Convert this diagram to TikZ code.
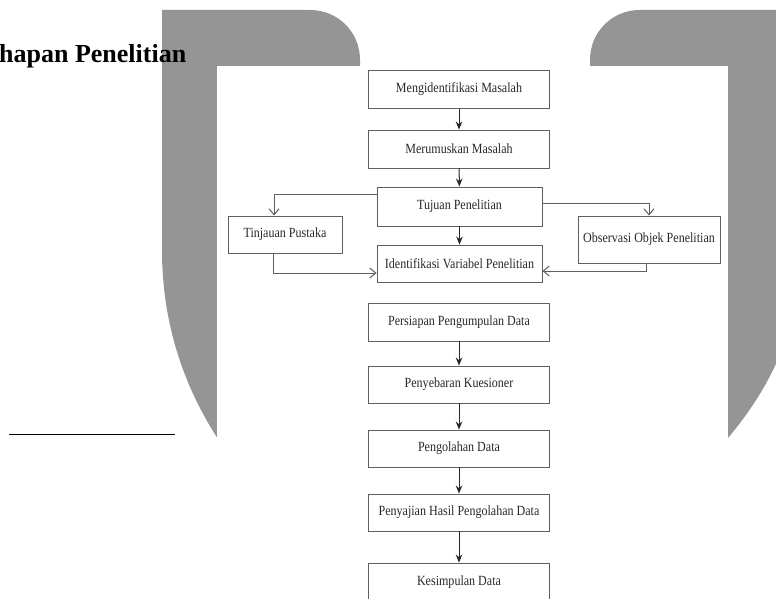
\documentclass[tikz,border=0pt]{standalone}
\usepackage{fontspec}
\setmainfont{Liberation Serif}
\usetikzlibrary{arrows.meta}
\definecolor{wmgray}{RGB}{149,149,150}
\definecolor{boxline}{RGB}{95,95,95}
\definecolor{boxtext}{RGB}{40,40,40}
\newcommand{\slim}[1]{\scalebox{0.86}[1]{#1}}
\tikzset{
  stepbox/.style={draw=boxline, line width=0.9pt, text=boxtext, inner sep=0pt,
    minimum width=181pt, minimum height=38pt, font=\fontsize{14}{16}\selectfont},
  fillarrow/.style={draw=black!85, line width=1pt, -{Stealth[length=8pt,width=6.5pt]}},
  openarrow/.style={draw=boxline, line width=1pt, -{Straight Barb[length=6pt,width=10pt]}}
}
\begin{document}
\begin{tikzpicture}[x=1pt,y=-1pt]
    \useasboundingbox (0,0) rectangle (776,599);
    \clip (0,0) rectangle (776,599);
    % grey shapes behind the chart
    \fill[wmgray] (162,10) -- (310,10) .. controls (338,10) and (360,32) .. (360,60)
      -- (360,445) -- (222,445) .. controls (188,395) and (162,330) .. (162,250) -- cycle;
    \fill[wmgray] (590,60) .. controls (590,32) and (612,10) .. (640,10) -- (800,10)
      -- (800,250) .. controls (800,330) and (770,390) .. (722,445) -- (590,445) -- cycle;
    \fill[white] (217,66) rectangle (728,610);
    \node[anchor=base west, inner sep=0pt, font=\fontsize{26}{30}\selectfont\bfseries] (judul) at (-1,63) {hapan Penelitian};
    \draw[line width=1pt] (9,434) -- (175,434);

    \node[stepbox] (mengid) at (459,89.5) {\slim{Mengidentifikasi Masalah}};
    \node[stepbox] (rumus) at (459,149) {\slim{Merumuskan Masalah}};
    \node[stepbox, minimum width=165pt, minimum height=39pt] (tujuan) at (459.5,206.5) {\slim{Tujuan Penelitian}};
    \node[stepbox, minimum width=114pt, minimum height=37pt] (tinjauan) at (285,234.5) {\slim{Tinjauan Pustaka}};
    \node[stepbox, minimum width=142pt, minimum height=47pt] (observasi) at (649,239.5) {\slim{Observasi Objek Penelitian}};
    \node[stepbox, minimum width=165pt, minimum height=37pt] (identifikasi) at (459.5,263.5) {\slim{Identifikasi Variabel Penelitian}};
    \node[stepbox] (persiapan) at (459,322) {\slim{Persiapan Pengumpulan Data}};
    \node[stepbox, minimum height=37pt] (sebar) at (459,384.5) {\slim{Penyebaran Kuesioner}};
    \node[stepbox, minimum height=37pt] (olah) at (459,448.5) {\slim{Pengolahan Data}};
    \node[stepbox, minimum height=37pt] (saji) at (459,512.5) {\slim{Penyajian Hasil Pengolahan Data}};
    \node[stepbox] (simpul) at (459,582) {\slim{Kesimpulan Data}};

    \foreach \a/\b in {mengid/rumus,rumus/tujuan,tujuan/identifikasi,persiapan/sebar,sebar/olah,olah/saji,saji/simpul}
    \draw[fillarrow] (\a) -- (\b);

    \draw[openarrow] ([yshift=12.5pt]tujuan.west) -| ([xshift=-11pt]tinjauan.north);
    \draw[openarrow] ([yshift=3.5pt]tujuan.east) -| (observasi.north);
    \draw[openarrow] ([xshift=-12pt]tinjauan.south) |- ([yshift=-9.5pt]identifikasi.west);
    \draw[openarrow] ([xshift=-3pt]observasi.south) |- ([yshift=-7.5pt]identifikasi.east);
  \end{tikzpicture}
\end{document}
